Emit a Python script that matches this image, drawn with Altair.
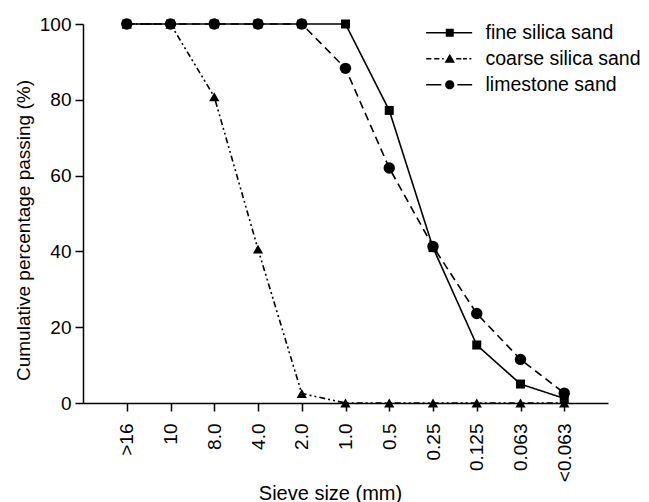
import altair as alt
import pandas as pd

sieve_labels = [">16", "10", "8.0", "4.0", "2.0", "1.0", "0.5", "0.25", "0.125", "0.063", "<0.063"]
series_names = ["fine silica sand", "coarse silica sand", "limestone sand"]
fine = [100, 100, 100, 100, 100, 100, 77.2, 41.0, 15.3, 5.0, 1.2]
coarse = [100, 100, 80.8, 40.6, 2.5, 0, 0, 0, 0, 0, 0]
limestone = [100, 100, 100, 100, 100, 88.3, 62.0, 41.3, 23.6, 11.5, 2.6]

marker_shapes = ["square", "triangle-up", "circle"]
marker_sizes = [81, 130, 78]
dash_patterns = [[1, 0], [6, 3, 2, 3, 2, 3], [8, 5]]


def seg(a, b, h=0.2):
    return f"M{a},{-h}H{b}V{h}H{a}Z"


# legend glyphs: filled line pieces + marker (path units, 1 unit = 4 px)
legend_glyphs = [
    seg(-5.9, 5.6) + "M-1,-1H1V1H-1Z",
    seg(-5.9, -4.6) + seg(-3.9, -2.6) + seg(-1.9, -1.5) + seg(1.6, 2.9) + seg(3.3, 4.3) + seg(4.9, 5.4)
    + "M0,-1.25L1.3,1L-1.3,1Z",
    seg(-5.9, -2.1) + seg(1.9, 5.6) + "M-1.15,0A1.15,1.15 0 1,0 1.15,0A1.15,1.15 0 1,0 -1.15,0Z",
]

rows = []
for name, vals in zip(series_names, [fine, coarse, limestone]):
    for i, (lab, v) in enumerate(zip(sieve_labels, vals)):
        rows.append({"series": name, "idx": i + 1, "sieve": lab, "value": v})
df = pd.DataFrame(rows)

FONT = "Liberation Sans"
label_expr = "[" + ",".join("'" + l + "'" for l in sieve_labels) + "][datum.value - 1]"

x_enc = alt.X(
    "idx:Q",
    scale=alt.Scale(domain=[0, 12], nice=False, zero=False),
    axis=alt.Axis(
        values=list(range(1, 12)),
        labelExpr=label_expr,
        labelAngle=-90,
        labelFlush=False,
        labelOverlap=False,
        tickSize=8,
        labelPadding=12,
        labelFontSize=19,
        title="Sieve size (mm)",
        titleFontSize=20,
        titleX=247,
        titleY=96,
        titleBaseline="alphabetic",
        grid=False,
    ),
)
y_enc = alt.Y(
    "value:Q",
    scale=alt.Scale(domain=[0, 100], nice=False),
    axis=alt.Axis(
        values=list(range(0, 101, 10)),
        labelExpr="datum.value % 20 === 0 ? datum.label : ''",
        tickSize={"condition": {"test": "datum.value % 20 === 0", "value": 8}, "value": 5},
        labelPadding=4,
        labelFontSize=19,
        labelFlush=False,
        labelOverlap=False,
        title="Cumulative percentage passing  (%)",
        titleFontSize=19,
        titleX=-54,
        titleY=206,
        titleAngle=-90,
        titleBaseline="alphabetic",
        grid=False,
    ),
)

base = alt.Chart(df)

lines = base.mark_line(color="black", strokeWidth=1.6).encode(
    x=x_enc,
    y=y_enc,
    strokeDash=alt.StrokeDash(
        "series:N",
        scale=alt.Scale(domain=series_names, range=dash_patterns),
        legend=None,
    ),
    detail="series:N",
)

points = base.mark_point(filled=True, color="black", opacity=1).encode(
    x="idx:Q",
    y="value:Q",
    shape=alt.Shape(
        "series:N",
        scale=alt.Scale(domain=series_names, range=marker_shapes),
        legend=None,
    ),
    size=alt.Size(
        "series:N",
        scale=alt.Scale(domain=series_names, range=marker_sizes),
        legend=None,
    ),
)

legend_layer = base.transform_filter("false").mark_point(
    filled=True, opacity=1
).encode(
    x="idx:Q",
    y="value:Q",
    fill=alt.value("black"),
    shape=alt.Shape(
        "series:N",
        scale=alt.Scale(domain=series_names, range=legend_glyphs),
        legend=alt.Legend(
            orient="none",
            legendX=357,
            legendY=-1,
            title=None,
            labelFont=FONT,
            labelFontSize=19.5,
            labelColor="black",
            labelOffset=26,
            labelLimit=0,
            symbolSize=64,
            symbolFillColor="black",
            rowPadding=5,
            padding=0,
        ),
    ),
)

chart = (
    alt.layer(lines, points, legend_layer)
    .resolve_scale(shape="independent", size="independent")
    .properties(
        width=525,
        height=379,
        autosize=alt.AutoSizeParams(type="none"),
        padding={"left": 75, "top": 16, "right": 33, "bottom": 100},
    )
    .configure_view(stroke=None)
    .configure_axis(
        domainColor="black",
        domainWidth=1.5,
        tickColor="black",
        tickWidth=1.5,
        labelColor="black",
        titleColor="black",
        labelFont=FONT,
        titleFont=FONT,
        titleFontWeight="normal",
    )
    .configure_legend(labelFont=FONT)
)

chart.save("out.html", embed_options={"renderer": "svg", "actions": False})
